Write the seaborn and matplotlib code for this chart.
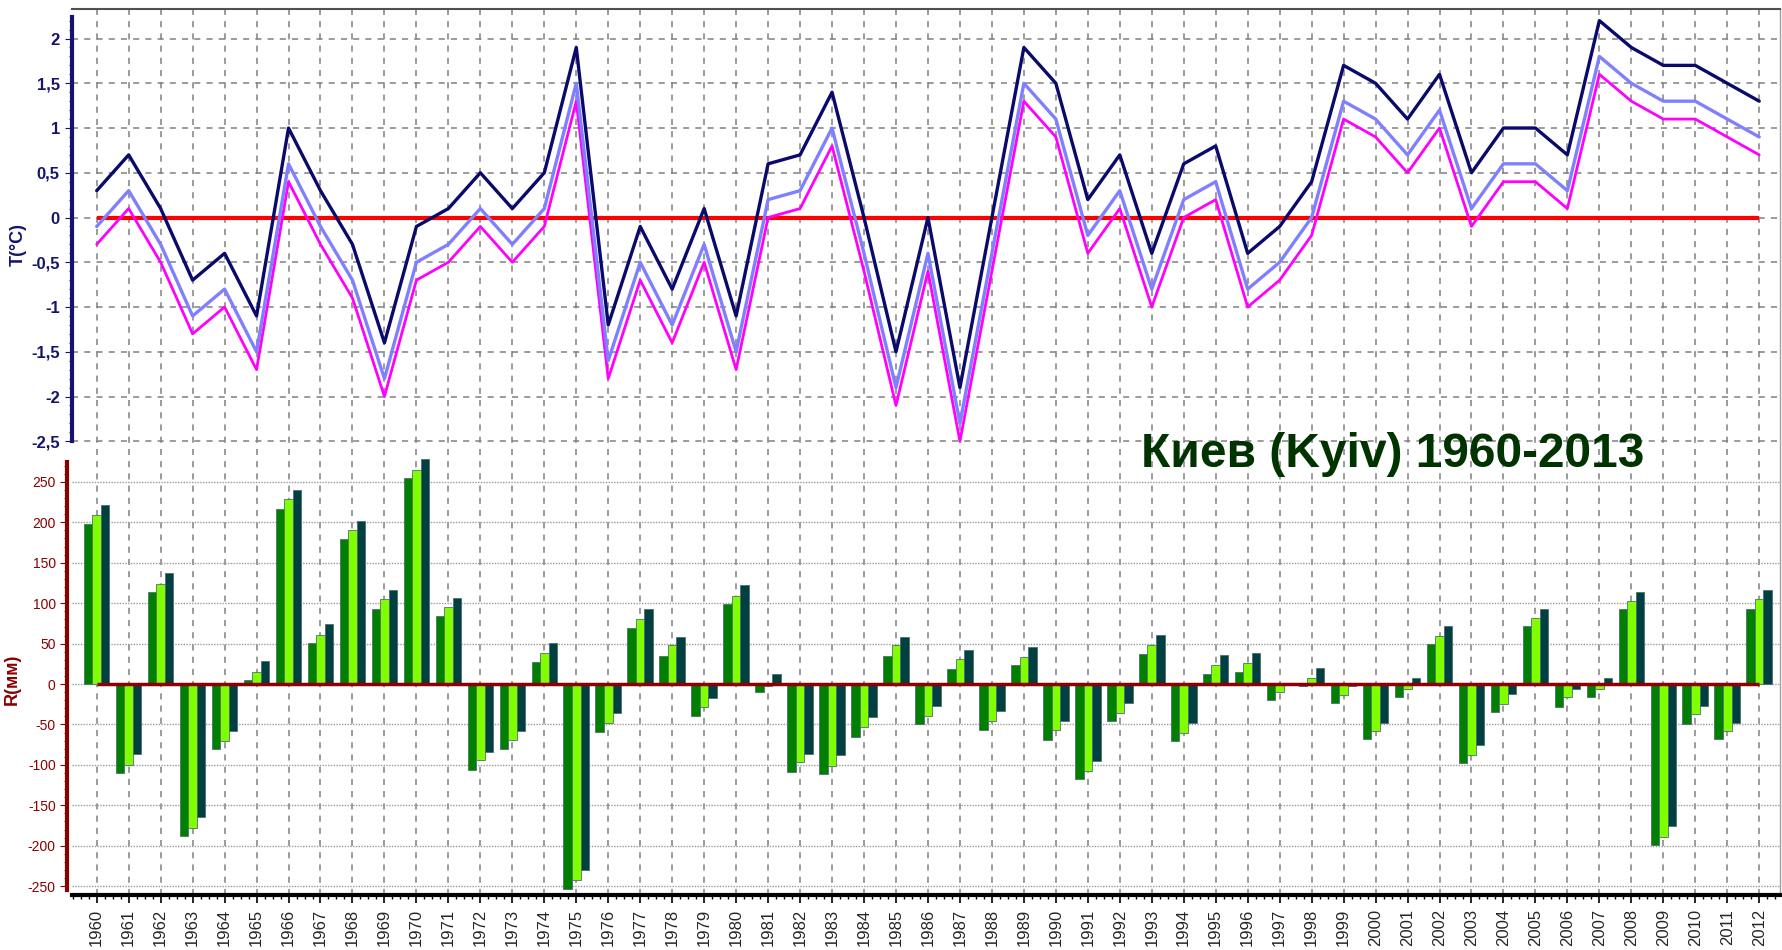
import numpy as np
import pandas as pd
import matplotlib
matplotlib.use("Agg")
import matplotlib.pyplot as plt
import seaborn as sns

# years on the x axis
years = list(range(1960, 2013))

# temperature anomalies, three curves (upper / middle / lower)
t_upper = [0.3, 0.7, 0.1, -0.7, -0.4, -1.1, 1.0, 0.3, -0.3, -1.4,
           -0.1, 0.1, 0.5, 0.1, 0.5, 1.9, -1.2, -0.1, -0.8, 0.1,
           -1.1, 0.6, 0.7, 1.4, 0.0, -1.5, 0.0, -1.9, 0.0, 1.9,
           1.5, 0.2, 0.7, -0.4, 0.6, 0.8, -0.4, -0.1, 0.4, 1.7,
           1.5, 1.1, 1.6, 0.5, 1.0, 1.0, 0.7, 2.2, 1.9, 1.7,
           1.7, 1.5, 1.3]
t_mid = [-0.1, 0.3, -0.3, -1.1, -0.8, -1.5, 0.6, -0.1, -0.7, -1.8,
         -0.5, -0.3, 0.1, -0.3, 0.1, 1.5, -1.6, -0.5, -1.2, -0.3,
         -1.5, 0.2, 0.3, 1.0, -0.4, -1.9, -0.4, -2.3, -0.4, 1.5,
         1.1, -0.2, 0.3, -0.8, 0.2, 0.4, -0.8, -0.5, 0.0, 1.3,
         1.1, 0.7, 1.2, 0.1, 0.6, 0.6, 0.3, 1.8, 1.5, 1.3,
         1.3, 1.1, 0.9]
t_low = [-0.3, 0.1, -0.5, -1.3, -1.0, -1.7, 0.4, -0.3, -0.9, -2.0,
         -0.7, -0.5, -0.1, -0.5, -0.1, 1.3, -1.8, -0.7, -1.4, -0.5,
         -1.7, 0.0, 0.1, 0.8, -0.6, -2.1, -0.6, -2.5, -0.6, 1.3,
         0.9, -0.4, 0.1, -1.0, 0.0, 0.2, -1.0, -0.7, -0.2, 1.1,
         0.9, 0.5, 1.0, -0.1, 0.4, 0.4, 0.1, 1.6, 1.3, 1.1,
         1.1, 0.9, 0.7]

# precipitation anomalies (mm), three bars per year
r_a = [198, -110, 114, -188, -81, 5, 217, 51, 179, 93,
       255, 84, -106, -81, 27, -253, -59, 69, 35, -40,
       99, -10, -109, -111, -65, 35, -50, 19, -57, 23,
       -69, -118, -46, 37, -71, 13, 15, -20, -3, -24,
       -68, -16, 49, -98, -35, 72, -29, -16, 93, -199,
       -50, -68, 93]
r_b = [209, -100, 124, -178, -71, 15, 229, 61, 190, 105,
       265, 95, -94, -69, 38, -243, -48, 80, 48, -29,
       109, -2, -97, -101, -53, 48, -40, 31, -46, 33,
       -57, -107, -36, 48, -61, 24, 26, -10, 7, -14,
       -58, -6, 59, -88, -25, 82, -16, -6, 103, -189,
       -37, -58, 105]
r_c = [221, -87, 137, -165, -58, 28, 240, 74, 202, 116,
       278, 107, -84, -58, 51, -230, -36, 93, 58, -17,
       122, 12, -87, -88, -41, 58, -27, 42, -34, 46,
       -46, -95, -23, 61, -48, 36, 38, 1, 20, -2,
       -48, 7, 72, -75, -12, 93, -6, 7, 114, -176,
       -27, -48, 116]

t_ticks = [2, 1.5, 1, 0.5, 0, -0.5, -1, -1.5, -2, -2.5]
r_ticks = [250, 200, 150, 100, 50, 0, -50, -100, -150, -200, -250]
title = "Киев (Kyiv) 1960-2013"

sns.set_style("white")
plt.rcParams['font.family'] = ['Liberation Sans', 'DejaVu Sans']

navy = '#14146e'
dred = '#8b0000'
W, H = 1783, 950

fig = plt.figure(figsize=(W / 100, H / 100), dpi=100)
ax = fig.add_axes([71.6 / W, 1 - 895 / H, (1780 - 71.6) / W, (895 - 9) / H])

# bars
labels = [str(y) for y in years]
df_r = pd.DataFrame({
    'year': labels * 3,
    'series': ['a'] * len(years) + ['b'] * len(years) + ['c'] * len(years),
    'R': r_a + r_b + r_c,
})
sns.barplot(data=df_r, x='year', y='R', hue='series', order=labels,
            hue_order=['a', 'b', 'c'],
            palette=['#008000', '#80ff00', '#004040'], saturation=1,
            width=0.8, errorbar=None, legend=False,
            edgecolor='#4f6f6f', linewidth=0.6, ax=ax, zorder=2)
idx = np.arange(len(years))
ax.hlines(0, idx[0], idx[-1], color=dred, lw=2.5, zorder=3)

ax.set_xlim(-0.785, 52.65)
ax.set_ylim(-261, 835)
ax.set_xlabel('')
ax.set_ylabel('')
ax.set_xticks(idx)
ax.set_xticklabels(labels, rotation=90, fontsize=12)
ax.set_xticks(np.arange(-0.75, 52.65, 0.25), minor=True)
ax.set_yticks(r_ticks)
ax.set_yticklabels([str(v) for v in r_ticks], fontsize=12)
ax.set_yticks(np.arange(-250, 271, 10), minor=True)
ax.tick_params(axis='x', which='major', direction='out', length=6, width=1.2,
               color='black', pad=4, bottom=True)
ax.tick_params(axis='x', which='minor', direction='out', length=3, width=1,
               color='black', bottom=True)
ax.tick_params(axis='y', which='both', colors=dred, left=True)
ax.tick_params(axis='y', which='major', length=5)
ax.tick_params(axis='y', which='minor', length=2)
ax.grid(axis='x', which='major', linestyle=(0, (4, 4)), color='#808080', lw=1.1)
ax.grid(axis='y', which='major', linestyle=(0, (1, 1)), color='#9a9a9a', lw=1.0)
ax.set_axisbelow(True)

ax.spines['top'].set_color('#505050')
ax.spines['top'].set_linewidth(1.5)
ax.spines['right'].set_color('#a0a0a0')
ax.spines['right'].set_linewidth(1)
ax.spines['bottom'].set_color('black')
ax.spines['bottom'].set_linewidth(3)
ax.spines['left'].set_color(dred)
ax.spines['left'].set_linewidth(3)
ax.spines['left'].set_bounds(-255, 275)
ax.spines['left'].set_position(('outward', 3))
ax.set_ylabel('R(мм)', color=dred, fontweight='bold', fontsize=13)
ax.yaxis.set_label_coords(-0.0295, 0.243)

# temperature lines on a twin axis, placed on the left too
ax_t = ax.twinx()
ax_t.set_ylim(-7.57, 2.33)
ax_t.hlines(0, idx[0], idx[-1], color='#ff0000', lw=3, zorder=1)
sns.lineplot(x=idx, y=t_upper, ax=ax_t, color='#0a0a6a', lw=2.4, zorder=4)
sns.lineplot(x=idx, y=t_mid, ax=ax_t, color='#8080ff', lw=2.4, zorder=3)
sns.lineplot(x=idx, y=t_low, ax=ax_t, color='#ff00ff', lw=2.0, zorder=2)
ax_t.set_xlim(-0.785, 52.65)

ax_t.yaxis.tick_left()
ax_t.yaxis.set_label_position('left')
ax_t.set_yticks(t_ticks)
ax_t.set_yticklabels([f"{v:g}".replace('.', ',') for v in t_ticks],
                     fontweight='bold', fontsize=12)
ax_t.set_yticks(np.arange(-2.5, 2.25, 0.1), minor=True)
ax_t.tick_params(axis='y', which='both', colors=navy, left=True, right=False)
ax_t.tick_params(axis='y', which='major', length=5)
ax_t.tick_params(axis='y', which='minor', length=2)
ax_t.grid(axis='y', which='major', linestyle=(0, (4, 4)), color='#808080', lw=1.1)
ax_t.grid(axis='x', visible=False)
for s in ['top', 'right', 'bottom']:
    ax_t.spines[s].set_visible(False)
ax_t.spines['left'].set_color(navy)
ax_t.spines['left'].set_linewidth(3)
ax_t.spines['left'].set_bounds(-2.5, 2.24)
ax_t.set_ylabel('T(°C)', color=navy, fontweight='bold', fontsize=13)
ax_t.yaxis.set_label_coords(-0.026, 0.734)

fig.text(1141 / W, 1 - 455 / H, title, ha='left', va='center',
         fontsize=34.5, fontweight='bold', color='#003300')

fig.savefig('out.png', dpi=100)
